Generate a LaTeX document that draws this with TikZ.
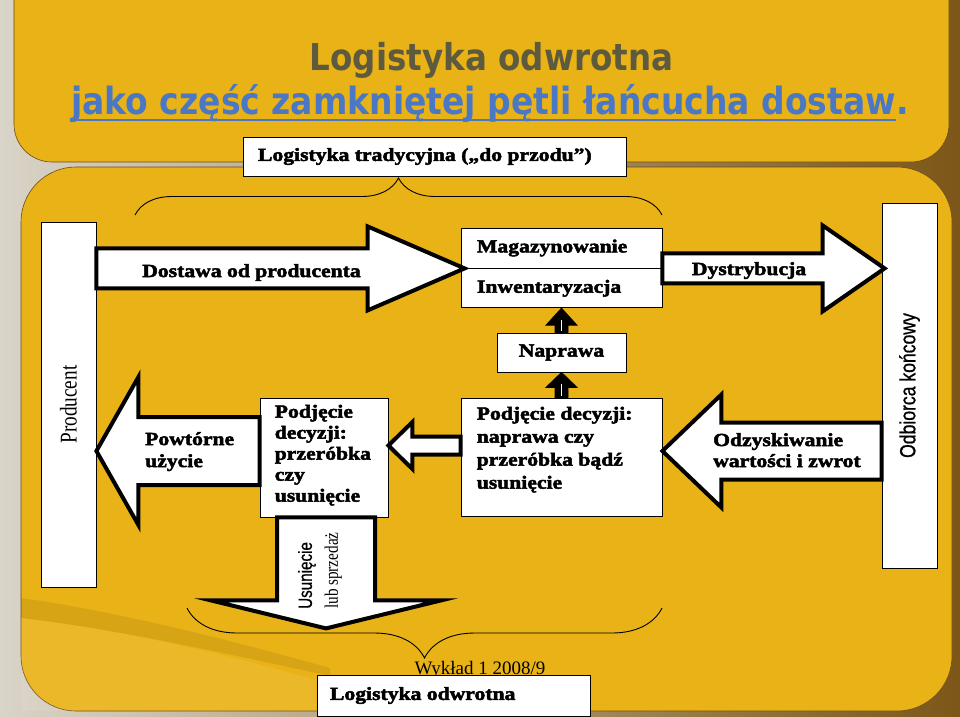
\documentclass[tikz,border=0pt]{standalone}
\usepackage{fontspec}
\setmainfont{Liberation Serif}
\newfontfamily\diafont{Liberation Serif}[FakeStretch=1.17, FakeBold=2.6]
\newfontfamily\titlefont{DejaVu Sans}[FakeStretch=0.88]
\newfontfamily\prodfont{Liberation Serif}[FakeStretch=0.8]
\newfontfamily\odbfont{Liberation Sans}[FakeStretch=0.8, FakeBold=0.8]
\usetikzlibrary{calc,positioning,decorations.pathreplacing}
\definecolor{slidegold}{HTML}{E9B217}
\definecolor{rimbrown}{HTML}{9C6C1E}
\definecolor{rimgray}{HTML}{D9D4C8}
\definecolor{titlegray}{HTML}{5E5A3E}
\definecolor{linkblue}{HTML}{4A78C4}

\newcommand\harrowblk[6][blockarr]{%
  \path[#1] let \p1=(#2), \p2=(#3) in
    (\x1,{\y2+#4}) -- ({\x2-(#6)},{\y2+#4}) -- ({\x2-(#6)},{\y2+#5})
    -- (\x2,\y2) -- ({\x2-(#6)},{\y2-#5}) -- ({\x2-(#6)},{\y2-#4})
    -- (\x1,{\y2-#4}) -- cycle;}
\newcommand\varrowblk[6][blockarr]{%
  \path[#1] let \p1=(#2), \p2=(#3) in
    ({\x2-#4},\y1) -- ({\x2-#4},{\y2+(#6)}) -- ({\x2-#5},{\y2+(#6)})
    -- (\x2,\y2) -- ({\x2+#5},{\y2+(#6)}) -- ({\x2+#4},{\y2+(#6)})
    -- ({\x2+#4},\y1) -- cycle;}

\begin{document}
\begin{tikzpicture}[x=1pt,y=-1pt,
    box/.style={draw=black, fill=white, line width=0.8pt, inner sep=0pt},
    dia/.style={font=\diafont\bfseries\fontsize{18.5}{23}\selectfont},
    diatight/.style={font=\diafont\bfseries\fontsize{18.5}{21}\selectfont},
    blockarr/.style={draw=black, fill=white, line width=4pt, line join=miter},
    uparr/.style={draw=black, fill=black, line width=0.8pt},
    bracket/.style={draw=black, line width=0.9pt, decorate, decoration={brace, amplitude=#1}}]
    \useasboundingbox (0,0) rectangle (960,716);
    \clip (0,0) rectangle (960,716);
    \shade[left color=rimgray, middle color=rimbrown, right color=rimbrown!80!black] (0,0) rectangle (960,716);
    \fill[slidegold, draw=rimbrown!70!black, line width=0.6pt, rounded corners=38pt] (14,-60) rectangle (949,162);
    \fill[slidegold, draw=rimbrown!70!black, line width=0.6pt, rounded corners=55pt] (21,167) rectangle (952,711);
    \fill[black, opacity=0.08] (21,598) .. controls (120,612) and (230,640) .. (330,668) -- (330,676) .. controls (220,652) and (110,628) .. (21,618) -- cycle;
    \fill[white, opacity=0.08] (21,618) .. controls (110,628) and (220,652) .. (316,680) -- (316,711) -- (21,711) -- cycle;

    \node[anchor=base, inner sep=0pt, text=titlegray, font=\titlefont\bfseries\fontsize{37}{44}\selectfont] (title) at (491.5,70) {Logistyka odwrotna};
    \node[anchor=base, inner sep=0pt, text=linkblue, font=\titlefont\bfseries\fontsize{37.5}{44}\selectfont] (sub) at (483.5,114) {jako część zamkniętej pętli łańcucha dostaw};
    \node[anchor=base west, inner sep=0pt, text=linkblue, font=\titlefont\bfseries\fontsize{37.5}{44}\selectfont] (dot) at (sub.base east) {.};
    \draw[linkblue, line width=2pt] ([yshift=-6pt]sub.base west) -- ([yshift=-6pt]sub.base east);

    \node[box, dia, minimum width=383pt, minimum height=39pt, inner xsep=15pt] (trad) at (434.5,156.5) {\makebox[353pt][l]{Logistyka tradycyjna („do przodu”)}};
    \draw[bracket=37pt] (135,215) -- (662,215);

    \node[box, rotate=90, minimum width=365pt, minimum height=55pt, font=\prodfont\fontsize{24}{24}\selectfont] (prod) at (68.5,404.5) {Producent};
    \node[box, rotate=90, minimum width=365pt, minimum height=55pt, font=\odbfont\fontsize{22}{22}\selectfont] (odb) at (909.5,385.5) {Odbiorca końcowy};
    \node[box, dia, minimum width=201pt, minimum height=40pt, inner xsep=16pt] (mag) at (561.5,248) {\makebox[169pt][l]{Magazynowanie}};
    \node[box, dia, minimum width=201pt, minimum height=39pt, inner xsep=16pt, below=0pt of mag] (inw) {\makebox[169pt][l]{Inwentaryzacja}};
    \node[box, dia, minimum width=129pt, minimum height=39pt] (nap) at (561.5,352.5) {Naprawa};
    \node[box, minimum width=201pt, minimum height=118pt] (dec1) at (561.5,457) {};
    \node[dia, align=left, anchor=north west, inner sep=0pt] (dec1t) at ($(dec1.north west)+(16,9)$) {Podjęcie decyzji:\\naprawa czy\\przeróbka bądź\\usunięcie};
    \node[box, minimum width=128pt, minimum height=119pt] (dec2) at (324,457.5) {};
    \node[diatight, align=left, anchor=north west, inner sep=0pt] (dec2t) at ($(dec2.north west)+(15,7)$) {Podjęcie\\decyzji:\\przeróbka\\czy\\usunięcie};

    \coordinate (dtip) at (odb.north |- mag.south east);
    \harrowblk{prod.south}{$(mag.south west)+(4,0)$}{20}{42}{97}
    \harrowblk{mag.south east}{$(dtip)+(3,0)$}{15}{43}{62}
    \harrowblk{odb.north}{$(dec1.east)+(0,-6)$}{28.5}{56.5}{-59}
    \harrowblk{dec1.west}{$(dec2.east)+(0,-12)$}{9}{23.5}{-24}
    \harrowblk{dec2.west}{$(prod.south)+(0,46.5)$}{34}{74}{-42}
    \varrowblk{dec2.south}{$(dec2.south)+(2,111)$}{49}{115}{28}
    \varrowblk[uparr]{nap.north}{inw.south}{6.5}{15.5}{-17}
    \varrowblk[uparr]{dec1.north}{nap.south}{6.5}{15.5}{-15}
    \draw[white, line width=1.4pt] ($(nap.north)+(0,-2)$) -- ($(inw.south)+(0,12)$);
    \draw[white, line width=1.4pt] ($(dec1.north)+(0,-2)$) -- ($(nap.south)+(0,12)$);

    \node[dia, anchor=base] (dost) at (251.5,277) {Dostawa od producenta};
    \node[dia, anchor=base] (dyst) at (749,275) {Dystrybucja};
    \node[dia, align=left, anchor=north west, inner sep=0pt, font=\diafont\bfseries\fontsize{18.5}{22}\selectfont] (powt) at (145,432) {Powtórne\\użycie};
    \node[diatight, align=left, anchor=north west, inner sep=0pt] (odz) at (713,433) {Odzyskiwanie\\wartości i zwrot};
    \node[rotate=90, anchor=west, align=left, inner sep=0pt, font=\fontsize{19}{26}\selectfont] (usn) at (320,609) {{\odbfont Usunięcie}\\{\prodfont lub sprzedaż}};

    \draw[bracket=50pt] (662,608) -- (187,608);
    \node[anchor=base, inner sep=0pt, font=\fontsize{19}{19}\selectfont] (wyk) at (480,674) {Wykład 1 2008/9};
    \node[box, dia, minimum width=273pt, minimum height=41pt, inner xsep=13pt] (odwr) at (453.5,695.5) {\makebox[247pt][l]{Logistyka odwrotna}};
\end{tikzpicture}
\end{document}
